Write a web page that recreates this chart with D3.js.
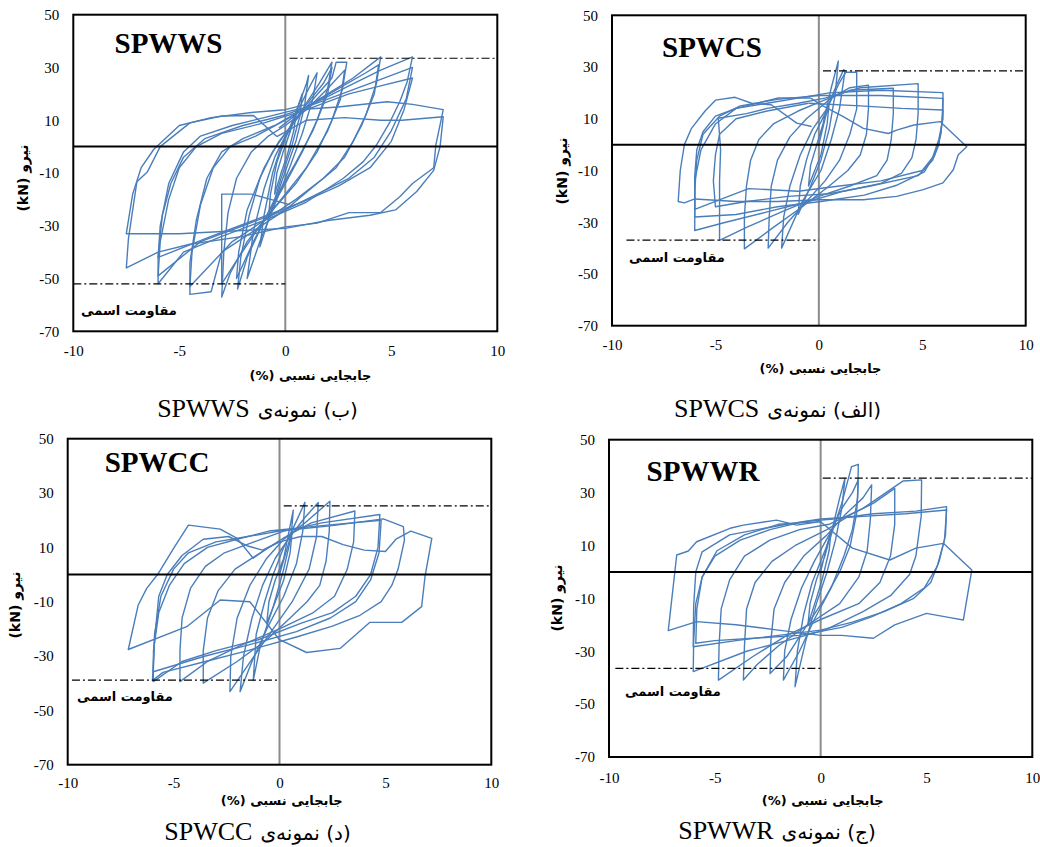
<!DOCTYPE html>
<html>
<head>
<meta charset="utf-8">
<script src="https://cdn.jsdelivr.net/npm/d3@7"></script>
<style>
  body { margin: 0; background: #fff; }
  text { fill: #000; }
</style>
</head>
<body>
<svg width="1040" height="847"></svg>
<script>
// axis ticks shared by all four panels
var xTicks = [-10, -5, 0, 5, 10];
var yTicks = [50, 30, 10, -10, -30, -50, -70];

var specimens = ["SPWWS", "SPWCS", "SPWCC", "SPWWR"];
var captionPersian = ["(ب) نمونه‌ی", "(الف) نمونه‌ی", "(د) نمونه‌ی", "(ج) نمونه‌ی"];
var xTitle = "جابجایی نسبی (%)";
var yTitle = "نیرو (kN)";
var nominalLabel = "مقاومت اسمی";

// nominal strength (kN) and extent of the dash-dot lines (%)
var nominalPos = [33.5, 28.5, 25.3, 35.5];
var nominalNeg = [-52, -36.9, -38.9, -36.5];
var nominalPosFrom = [0.2, 0.2, 0.2, 0.1];
var nominalNegFrom = [-10, -9.3, -9.8, -9.7];

// hysteresis cycles: [drift %, force kN]
var spwwsCycles = [
  [[0,0],[0.3,8],[0.5,12],[0.4,6],[0.1,-3],[-0.2,-10],[-0.5,-18],[-0.4,-10],[-0.1,-2],[0.2,5]],
  [[0.2,5],[0.5,13],[0.8,20],[0.7,12],[0.3,0],[-0.2,-12],[-0.8,-28],[-0.7,-18],[-0.4,-6],[0,3]],
  [[0,3],[0.6,15],[1.0,24],[1.1,27],[0.9,15],[0.5,2],[-0.2,-14],[-0.8,-28],[-1.2,-38],[-1.0,-26],[-0.6,-10],[-0.2,0]],
  [[-0.2,0],[0.5,12],[1.1,22],[1.5,28],[1.3,18],[0.8,5],[0.2,-8],[-0.6,-24],[-1.2,-36],[-1.8,-50],[-1.5,-32],[-1.0,-16],[-0.5,-4],[0,4]],
  [[0,4],[0.8,14],[1.6,24],[2.2,32],[2.0,22],[1.5,10],[0.8,-2],[0,-14],[-1.0,-28],[-1.8,-42],[-2.25,-54],[-2.1,-42],[-1.7,-26],[-1.2,-12],[-0.6,-2],[0,5]],
  [[0,5],[1.0,16],[1.8,24],[2.2,30],[2.0,20],[1.3,6],[0.5,-6],[-0.5,-20],[-1.5,-36],[-2.3,-50],[-2.2,-40],[-1.8,-24],[-1.0,-8],[-0.3,2],[0.3,8]],
  [[0.3,8],[1.2,17],[2.2,26],[2.4,32],[2.9,32],[2.7,22],[2.2,10],[1.5,-2],[0.5,-14],[-0.6,-24],[-1.8,-36],[-2.6,-48],[-3.0,-57],[-2.9,-40],[-2.7,-25],[-2.3,-12],[-1.6,-2],[-0.8,4],[0,8]],
  [[0,8],[1.0,14],[2.0,22],[2.8,29],[2.6,18],[2.0,6],[1.0,-8],[0,-18],[-1.2,-30],[-2.2,-42],[-3.0,-52],[-3.0,-36],[-3.0,-18],[-1.6,-18],[0.2,-22]],
  [[-0.3,7],[0.8,14],[2.0,20],[3.2,26],[4.5,34],[4.3,24],[3.8,12],[3.2,2],[2.4,-8],[1.2,-16],[0,-24],[-1.5,-32],[-3.0,-40],[-3.5,-55],[-4.5,-56],[-4.5,-44],[-4.2,-28],[-3.7,-12],[-3.0,-2],[-2.0,3],[-0.5,8]],
  [[-0.5,8],[1.0,15],[2.5,22],[3.8,28],[4.4,31],[4.2,20],[3.6,8],[2.8,-4],[1.8,-12],[0.5,-20],[-1.0,-28],[-2.5,-36],[-4.5,-53],[-4.4,-40],[-4.0,-22],[-3.4,-8],[-2.6,0],[-1.4,4],[0,10]],
  [[0,10],[1.5,17],[3.0,23],[4.5,29],[6.0,34],[5.75,24.6],[5.4,17],[4.94,9.4],[4.3,0.6],[3.68,-5.7],[2.74,-12],[1.0,-21],[-1.0,-28],[-3.0,-34],[-4.8,-40],[-6.0,-52],[-6.0,-42],[-5.8,-26],[-5.4,-14],[-4.8,-4],[-3.8,3],[-2.0,8],[0,12]],
  [[0,12],[2.0,18],[4.0,24],[6.0,30],[5.7,18],[5.0,6],[4.2,-4],[3.0,-12],[1.5,-18],[0,-24],[-2.0,-30],[-4.0,-36],[-6.0,-49],[-5.9,-36],[-5.5,-20],[-5.0,-8],[-4.2,0],[-3.0,5],[-1.0,9]],
  [[-1.0,9],[1.0,14],[3.0,20],[4.5,23],[6.0,26],[5.6,14],[5.0,2],[4.0,-8],[2.5,-15],[0.8,-21],[-1.5,-28],[-3.5,-34],[-6.0,-42],[-5.9,-30],[-5.5,-14],[-4.8,-2],[-4.0,4],[-2.5,8],[-1.0,11]],
  [[-1.0,11],[0.5,14],[2.5,15],[4.8,17],[6.0,16],[7.45,14],[7.1,0.6],[7.0,-8],[6.0,-14],[5.4,-19],[4.5,-25],[3.0,-25],[1.5,-29],[0,-30.4],[-2.0,-34],[-4.5,-37],[-6.0,-40],[-7.5,-46],[-7.4,-35],[-7.0,-13.3],[-6.5,-9.5],[-5.9,0],[-4.5,9],[-3.0,11.6],[-1.5,11.8],[-0.4,3.8]],
  [[-0.4,3.8],[1.0,10],[2.8,11],[4.5,10],[5.5,10],[7.45,11.3],[7.3,0],[7.0,-9],[6.2,-17],[5.2,-24],[4.0,-26],[2.0,-28],[0,-31],[-2.5,-32],[-5.0,-33],[-7.5,-33],[-7.2,-18],[-6.8,-8],[-6.2,-1],[-5.0,8],[-3.5,11],[-1.5,13],[0,14],[1.0,16]]
];

var spwcsCycles = [
  [[0,0],[0.3,10],[0.5,16],[0.4,8],[0.1,-4],[-0.2,-10],[-0.5,-16],[-0.4,-8],[-0.1,0],[0.2,8]],
  [[0.2,8],[0.6,22],[0.94,32.3],[0.8,20],[0.5,6],[0.1,-6],[-0.4,-16],[-1.0,-27],[-0.9,-16],[-0.6,-6],[-0.2,4],[0.3,12]],
  [[0.3,12],[0.8,22],[1.2,29],[1.26,28.2],[1.0,14],[0.6,2],[0.1,-10],[-0.8,-22],[-1.8,-40],[-1.7,-28],[-1.4,-16],[-0.9,-4],[-0.3,6],[0.4,14]],
  [[0.4,14],[1.0,24],[1.3,28],[1.83,28],[1.83,13.8],[1.5,4],[1.0,-6],[0.3,-14],[-0.6,-22],[-1.5,-30],[-2.45,-40],[-2.4,-28],[-2.3,-16],[-2.0,-6],[-1.4,3],[-0.6,10],[0.6,18]],
  [[0.6,18],[1.5,22],[2.4,23],[2.4,14],[2.3,4],[2.0,-4],[1.4,-10],[0.5,-16],[-0.8,-24],[-2.2,-32],[-3.6,-40.3],[-3.6,-28],[-3.5,-16],[-3.3,-6],[-2.9,2],[-2.2,8],[-1.0,13],[0.2,17]],
  [[0.2,17],[1.5,21],[3.6,21.8],[3.6,12],[3.5,2],[3.3,-6],[2.8,-12],[1.5,-16],[0,-20],[-1.8,-26],[-3.5,-32],[-4.8,-37],[-4.8,-26],[-4.8,-14],[-4.75,-2],[-4.86,10.2],[-3.5,12],[-2.5,14],[-1.0,16],[0.3,18]],
  [[0.3,18],[2.0,22],[4.8,23.6],[4.8,12],[4.7,2],[4.5,-5],[4.0,-11],[3.0,-15],[1.2,-18],[-0.5,-22],[-2.5,-26],[-4.5,-30],[-6.0,-33.2],[-6.0,-24],[-6.0,-12],[-5.9,-2],[-5.6,5],[-5.0,11],[-4.0,14],[-2.5,16],[-1.0,18],[0.5,20]],
  [[0.5,20],[3.0,21],[6.0,20.1],[6.0,10],[5.8,2],[5.5,-5],[5.1,-10.5],[3.8,-15.6],[2.2,-19.5],[0.1,-22],[-2.0,-24],[-4.0,-27],[-6.0,-28],[-6.0,-18],[-5.9,-6],[-5.6,4],[-4.8,11],[-3.8,15],[-2.0,17.5],[0,19]],
  [[0,19],[3.0,19],[6.0,17.9],[5.95,8],[5.8,0],[5.5,-6],[4.8,-12],[2.5,-16],[0.5,-19],[-1.5,-20],[-3.5,-22],[-5.0,-24],[-5.1,-14],[-5.0,-4],[-4.8,4],[-4.0,10],[-2.5,13],[-0.5,16]],
  [[-0.5,16],[2.0,15],[4.0,14],[6.0,13.4],[5.9,4],[5.6,-4],[5.0,-10],[3.0,-14],[1.0,-16],[-1.0,-18],[-3.4,-17],[-6.0,-25],[-6.0,-14],[-5.7,-2],[-5.0,8],[-4.0,14],[-2.0,18],[-0.4,18]],
  [[-0.4,18],[0.2,15],[1.18,10.8],[2.15,6.3],[3.36,4.3],[3.76,5.6],[4.6,7.6],[5.86,8.9],[7.15,-0.8],[6.74,-3.9],[6.5,-9.7],[6.0,-14.8],[5.05,-17.4],[3.76,-20],[2.15,-21.3],[0.05,-21.3],[-2.0,-22],[-4.0,-22],[-6.0,-21],[-6.5,-22.5],[-6.8,-22],[-6.7,-10],[-6.5,0],[-6.15,6.4],[-5.5,13],[-5.0,17.2],[-4.05,18.3],[-3.25,16],[-2.3,15.4],[-1.07,8.3],[-0.35,7]]
];

var spwccCycles = [
  [[0,0],[0.3,8],[0.6,16],[0.5,8],[0.2,-2],[-0.2,-10],[-0.6,-18],[-0.5,-10],[-0.2,-2],[0.2,6]],
  [[0.2,6],[0.45,16],[0.65,23.7],[0.55,14],[0.2,2],[-0.3,-12],[-0.9,-26],[-1.24,-39],[-1.1,-22],[-0.7,-10],[-0.3,0],[0.2,10]],
  [[0.2,10],[0.7,18],[1.2,26.6],[1.1,16],[0.8,4],[0.2,-8],[-0.6,-20],[-1.3,-32],[-1.86,-43.1],[-1.7,-30],[-1.3,-16],[-0.8,-4],[-0.2,6],[0.5,14]],
  [[0.5,14],[1.2,21],[1.83,26.5],[1.75,14],[1.4,2],[0.6,-10],[-0.3,-20],[-1.2,-30],[-2.34,-43.1],[-2.3,-30],[-2.0,-16],[-1.4,-4],[-0.6,6],[0.2,13]],
  [[0.2,13],[1.2,19],[2.38,27],[2.35,16],[2.2,5],[1.9,-4],[1.3,-10],[0.5,-16],[-0.6,-24],[-2.0,-32],[-3.6,-40],[-3.6,-28],[-3.4,-16],[-2.9,-6],[-2.1,2],[-0.9,8],[0.3,14]],
  [[0.3,14],[1.5,19],[3.56,23.4],[3.5,12],[3.2,2],[2.6,-8],[1.6,-14],[0,-20],[-1.8,-26],[-3.4,-32],[-4.7,-39.4],[-4.7,-28],[-4.6,-16],[-4.2,-5],[-3.5,3],[-2.6,8],[-1.2,12],[0.2,16]],
  [[0.2,16],[2.0,19],[4.74,22.1],[4.65,10],[4.3,0],[3.6,-8],[2.5,-14],[1.0,-18],[-1.0,-24],[-3.0,-28],[-4.6,-32],[-5.96,-39.4],[-5.95,-28],[-5.7,-14],[-5.2,-4],[-4.5,4],[-3.4,10],[-2.0,13],[-0.5,16]],
  [[-0.5,16],[2.0,18],[4.8,20],[4.7,8],[4.3,-2],[3.6,-10],[2.4,-16],[0.8,-21],[-1.5,-26],[-3.5,-30],[-5.96,-35.8],[-5.9,-22],[-5.6,-8],[-5.0,2],[-4.3,8],[-3.0,12],[-1.5,14],[0,16]],
  [[0,16],[2.5,18],[4.9,20.5],[5.85,17.6],[5.9,12.7],[5.6,2],[5.3,-4],[4.8,-10],[3.8,-15],[2.5,-19],[0.8,-23],[-1.5,-28],[-3.5,-32],[-5.5,-36],[-6.0,-39],[-5.9,-24],[-5.7,-8],[-5.3,0],[-4.6,7],[-3.6,13],[-2.4,14],[-1.5,10.5],[-0.8,9],[0,12]],
  [[0,12],[1.0,14],[2.0,14],[3.0,11],[4.0,9],[5.0,8.5],[5.5,13],[6.2,16],[7.19,13.3],[6.87,-0.8],[6.71,-11.8],[5.77,-17.6],[4.27,-17.6],[2.86,-27.2],[1.28,-28.7],[0,-24],[-1.4,-10],[-2.8,-9.4],[-4.38,-19.2],[-7.14,-27.6],[-6.67,-11.2],[-6.27,-5.1],[-5.72,0.4],[-5.0,9.6],[-4.3,18.2],[-2.8,16.7],[-2.0,13.3],[-1.24,6.0],[-0.6,9.6],[0,12.1]]
];

var spwwrCycles = [
  [[0,0],[0.3,10],[0.5,16],[0.4,8],[0.1,-2],[-0.2,-10],[-0.6,-20],[-0.5,-12],[-0.2,-3],[0.2,6]],
  [[0.2,6],[0.6,18],[0.9,28],[1.15,35.4],[1.0,24],[0.7,12],[0.3,0],[-0.2,-12],[-0.7,-26],[-1.21,-43.4],[-1.1,-30],[-0.8,-16],[-0.4,-4],[0.1,6],[0.5,14]],
  [[0.5,14],[1.0,26],[1.46,39.8],[1.78,40.7],[1.75,28],[1.5,16],[1.1,6],[0.5,-6],[-0.3,-18],[-1.0,-30],[-1.76,-40.9],[-1.7,-30],[-1.4,-18],[-0.9,-6],[-0.3,4],[0.4,14]],
  [[0.4,14],[1.0,24],[1.5,30],[1.78,34.8],[1.7,22],[1.4,10],[0.9,0],[0.2,-10],[-0.8,-22],[-1.6,-32],[-2.39,-38.4],[-2.35,-26],[-2.2,-14],[-1.7,-4],[-0.8,6],[0.3,14]],
  [[0.3,14],[1.2,22],[2.0,28],[2.41,32.9],[2.35,20],[2.2,8],[1.8,-2],[0.9,-12],[-0.6,-20],[-2.0,-28],[-3.0,-35],[-3.65,-40.9],[-3.6,-28],[-3.5,-14],[-3.1,-4],[-2.3,4],[-1.2,10],[0.3,16]],
  [[0.3,16],[1.5,22],[2.5,26],[3.5,31.6],[3.5,18],[3.3,6],[2.8,-4],[1.8,-12],[0,-18],[-1.6,-24],[-3.2,-32],[-4.83,-40.9],[-4.8,-28],[-4.7,-14],[-4.3,-3],[-3.6,6],[-2.4,12],[-1.0,16],[0.4,18]],
  [[0.4,18],[2.0,24],[3.9,34.4],[4.77,34.8],[4.75,21],[4.5,6],[4.2,-1],[3.3,-9],[2.0,-15],[0.2,-22],[-1.6,-26],[-3.5,-30],[-6.02,-37.7],[-6.0,-26],[-5.9,-12],[-5.6,-2],[-5.0,6],[-3.8,12],[-2.4,16],[-0.8,19],[0.6,20]],
  [[0.6,20],[2.5,22],[4.5,23],[5.95,24.7],[5.9,14],[5.6,4],[5.2,-4],[4.4,-10],[3.0,-15],[1.5,-19],[0,-22],[-2.0,-24],[-4.0,-26],[-6.02,-28.3],[-6.0,-13],[-5.9,0],[-5.6,7.6],[-4.3,14],[-3.0,16],[-1.6,18],[0,20]],
  [[0,20],[2.0,21],[4.0,22],[5.95,23.4],[5.85,12],[5.5,2],[4.9,-6],[3.8,-12],[2.4,-17],[1.0,-21],[-1.0,-24],[-3.0,-25],[-5.0,-26],[-5.9,-27],[-5.85,-14],[-5.6,-2],[-4.9,8],[-3.6,14],[-2.0,18],[0,19]],
  [[0,19],[1.5,9],[3.27,4.5],[4.5,9],[5.8,10.8],[7.14,0.7],[6.74,-18.2],[6.11,-17.3],[5.0,-15.7],[3.5,-20],[2.49,-25.1],[1.0,-24],[0,-24],[-2.0,-22],[-4.0,-20],[-5.86,-18.8],[-7.2,-22.2],[-6.8,6.4],[-6.25,7.9],[-5.86,11.4],[-4.28,16.5],[-3.65,17.7],[-2.08,19.6],[-1.13,17.7],[0,19]]
];

var allCycles = [spwwsCycles, spwcsCycles, spwccCycles, spwwrCycles];

// pixel layout of each panel (plot box, label anchors)
var layout = [
  {l: 73.3, r: 497.3, t: 14.7, b: 331.3, lab: [168.5, 53.3], nom: [129, 315], xt: [310.5, 380], cap: [257.5, 416.7], yt: [22.5, 178], xpad: 14},
  {l: 612, r: 1025.7, t: 15.3, b: 325.7, lab: [712, 56.7], nom: [677, 262], xt: [820.5, 372.7], cap: [777.5, 416.7], yt: [561.7, 171], xpad: 14},
  {l: 67.7, r: 491.3, t: 438.7, b: 764.7, lab: [157, 471.7], nom: [125, 701], xt: [281.7, 805], cap: [257.5, 840], yt: [15, 605], xpad: 13},
  {l: 609, r: 1032.3, t: 439.7, b: 757, lab: [703, 481], nom: [673, 695.7], xt: [822.7, 805], cap: [777, 839], yt: [556.7, 598], xpad: 15}
];

var svg = d3.select("svg");
var blue = "#4a7ebb";
var persianFont = "'DejaVu Sans', sans-serif";
var serifFont = "'Liberation Serif', serif";

layout.forEach(function(p, i) {
  var x = d3.scaleLinear().domain([-10, 10]).range([p.l, p.r]);
  var y = d3.scaleLinear().domain([-70, 50]).range([p.b, p.t]);
  var g = svg.append("g");

  // vertical axis line at x = 0 (under the loops)
  g.append("line")
    .attr("x1", x(0)).attr("x2", x(0))
    .attr("y1", p.t).attr("y2", p.b)
    .attr("stroke", "#8c8c8c").attr("stroke-width", 2);

  var line = d3.line()
    .x(function(d) { return x(d[0]); })
    .y(function(d) { return y(d[1]); });

  g.selectAll("path.loop")
    .data(allCycles[i])
    .enter().append("path")
    .attr("class", "loop")
    .attr("d", line)
    .attr("fill", "none")
    .attr("stroke", blue)
    .attr("stroke-width", 1.4)
    .attr("stroke-linejoin", "round");

  // zero force line
  g.append("line")
    .attr("x1", p.l).attr("x2", p.r)
    .attr("y1", y(0)).attr("y2", y(0))
    .attr("stroke", "#000").attr("stroke-width", 2);

  // nominal strength lines
  var dash = "8,3,2,3";
  g.append("line")
    .attr("x1", x(nominalPosFrom[i])).attr("x2", x(10))
    .attr("y1", y(nominalPos[i])).attr("y2", y(nominalPos[i]))
    .attr("stroke", "#000").attr("stroke-width", 1.2)
    .attr("stroke-dasharray", dash);
  g.append("line")
    .attr("x1", x(nominalNegFrom[i])).attr("x2", x(0))
    .attr("y1", y(nominalNeg[i])).attr("y2", y(nominalNeg[i]))
    .attr("stroke", "#000").attr("stroke-width", 1.2)
    .attr("stroke-dasharray", dash);

  // plot frame
  g.append("rect")
    .attr("x", p.l).attr("y", p.t)
    .attr("width", p.r - p.l).attr("height", p.b - p.t)
    .attr("fill", "none").attr("stroke", "#000").attr("stroke-width", 2);

  // axes (labels only), plain hyphen for negatives
  var fmt = function(d) { return String(d); };
  var yAxis = d3.axisLeft(y).tickValues(yTicks).tickSize(0).tickPadding(14).tickFormat(fmt);
  var xAxis = d3.axisBottom(x).tickValues(xTicks).tickSize(0).tickPadding(p.xpad).tickFormat(fmt);

  var ya = g.append("g").attr("transform", "translate(" + p.l + ",0)").call(yAxis);
  var xa = g.append("g").attr("transform", "translate(0," + p.b + ")").call(xAxis);
  [ya, xa].forEach(function(a) {
    a.select(".domain").remove();
    a.selectAll("text")
      .attr("font-family", serifFont)
      .attr("font-size", 15)
      .attr("fill", "#222");
  });

  // specimen name
  g.append("text")
    .attr("x", p.lab[0]).attr("y", p.lab[1])
    .attr("text-anchor", "middle")
    .attr("font-family", serifFont)
    .attr("font-weight", "bold")
    .attr("font-size", 29)
    .text(specimens[i]);

  g.append("text")
    .attr("x", p.nom[0]).attr("y", p.nom[1])
    .attr("text-anchor", "middle")
    .attr("font-family", persianFont)
    .attr("font-weight", "bold")
    .attr("font-size", 13)
    .attr("direction", "rtl")
    .text(nominalLabel);

  g.append("text")
    .attr("x", p.xt[0]).attr("y", p.xt[1])
    .attr("text-anchor", "middle")
    .attr("font-family", persianFont)
    .attr("font-weight", "bold")
    .attr("font-size", 13)
    .attr("direction", "rtl")
    .text(xTitle);

  g.append("text")
    .attr("transform", "translate(" + p.yt[0] + "," + p.yt[1] + ") rotate(-90)")
    .attr("text-anchor", "middle")
    .attr("dominant-baseline", "central")
    .attr("font-family", persianFont)
    .attr("font-weight", "bold")
    .attr("font-size", 14)
    .attr("direction", "rtl")
    .text(yTitle);

  // caption: Latin name on the left, Persian part on the right
  var t1 = g.append("text")
    .attr("y", p.cap[1])
    .attr("font-family", serifFont)
    .attr("font-size", 26)
    .text(specimens[i]);
  var t2 = g.append("text")
    .attr("y", p.cap[1])
    .attr("text-anchor", "middle")
    .attr("font-family", persianFont)
    .attr("font-size", 20)
    .attr("direction", "rtl")
    .text(captionPersian[i]);
  var w1 = t1.node().getComputedTextLength();
  var w2 = t2.node().getComputedTextLength();
  var gap = 8;
  var x0 = p.cap[0] - (w1 + gap + w2) / 2;
  t1.attr("x", x0);
  t2.attr("x", x0 + w1 + gap + w2 / 2);
});
</script>
</body>
</html>
